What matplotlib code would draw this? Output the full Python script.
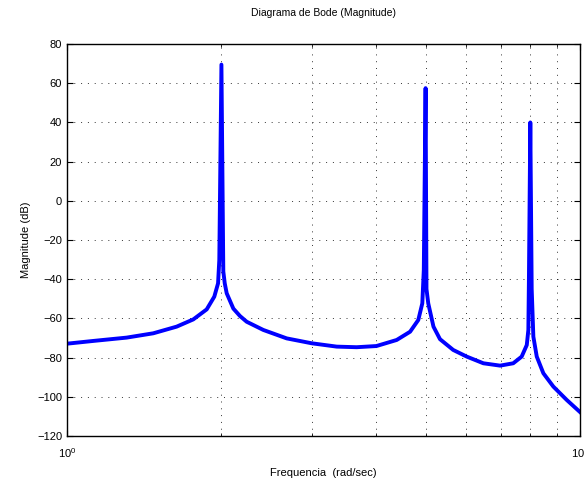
import numpy as np
import matplotlib.pyplot as plt
from matplotlib.ticker import LogLocator, NullFormatter, FixedLocator

plt.rcParams['font.family'] = ['Liberation Sans', 'DejaVu Sans']
plt.rcParams['mathtext.fontset'] = 'custom'
plt.rcParams['mathtext.rm'] = 'Liberation Sans'

# frequency (rad/sec) and magnitude (dB)
freq = [1.00, 1.125, 1.307, 1.473, 1.636, 1.763, 1.872, 1.937, 1.970, 1.981, 2.00,
        2.017, 2.030, 2.048, 2.110, 2.174, 2.240, 2.414, 2.681, 3.00, 3.356, 3.670,
        4.01, 4.392, 4.664, 4.839, 4.927, 4.96, 5.00, 5.02, 5.06, 5.18, 5.334, 5.66,
        6.015, 6.48, 6.985, 7.41, 7.695, 7.874, 7.93, 7.95, 8.00, 8.05, 8.11, 8.235,
        8.483, 8.872, 9.42, 10.0]
mag_db = [-72.9, -71.5, -69.8, -67.6, -64.2, -60.5, -55.4, -48.9, -42.1, -30.2, 69.5,
          -36.0, -42.1, -47.2, -55.0, -58.8, -61.7, -65.9, -70.2, -72.7, -74.4, -74.7,
          -74.1, -71.0, -66.8, -60.8, -52.3, -35.3, 57.5, -45.0, -52.3, -64.2, -70.6, -76.1,
          -79.5, -82.9, -84.1, -82.9, -79.5, -73.6, -65.9, -40.4, 40.0, -45.0, -69.3, -79.5,
          -88.0, -94.8, -101.6, -107.8]

fig = plt.figure(figsize=(5.84, 4.84), dpi=100)
ax = fig.add_axes([0.1147, 0.0992, 0.8785, 0.8098])

ax.semilogx(freq, mag_db, color='#0000ff', lw=2.8, solid_joinstyle='round')

ax.set_xlim(1, 10)
ax.set_ylim(-120, 80)
ax.set_yticks(np.arange(-120, 81, 20))
ax.xaxis.set_major_locator(FixedLocator([1, 10]))
ax.xaxis.set_minor_locator(LogLocator(base=10, subs=np.arange(2, 10)))
ax.xaxis.set_minor_formatter(NullFormatter())

ax.tick_params(which='both', direction='in', top=True, right=True, labelsize=8)
ax.tick_params(which='major', length=4)
ax.tick_params(which='minor', length=2.5)
ax.tick_params(axis='x', pad=7)
ax.grid(True, which='both', linestyle=(0, (1, 6)), color='black', lw=0.7, alpha=0.8)

for s in ax.spines.values():
    s.set_linewidth(1.0)

ax.set_title('Diagrama de Bode (Magnitude)', fontsize=7.5, pad=20)
ax.set_xlabel('Frequencia  (rad/sec)', fontsize=8, labelpad=6)
ax.set_ylabel('Magnitude (dB)', fontsize=8, labelpad=4)

fig.savefig('out.png', dpi=100)
